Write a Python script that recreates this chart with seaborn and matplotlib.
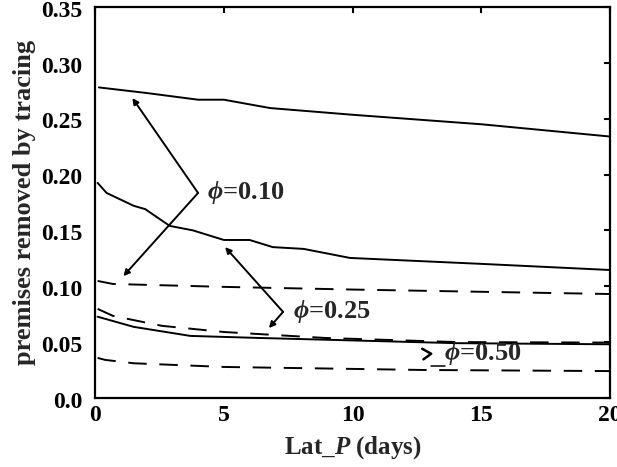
import pandas as pd
import matplotlib
matplotlib.use("Agg")
import matplotlib.pyplot as plt
import matplotlib.transforms as mtransforms
import seaborn as sns
from matplotlib.ticker import FixedLocator, FuncFormatter

# Solid curves (one per phi)
x_solid_010 = [0.15, 2, 4, 5, 6.8, 10, 15, 20]
y_solid_010 = [0.278, 0.273, 0.267, 0.267, 0.2595, 0.2535, 0.245, 0.234]

x_solid_025 = [0.1, 0.45, 1.5, 1.95, 2.9, 3.8, 5.0, 6.0, 6.9, 8.1, 9.9, 15, 20]
y_solid_025 = [0.1925, 0.1835, 0.172, 0.169, 0.154, 0.150, 0.1414, 0.1414, 0.135, 0.1334, 0.1253, 0.12, 0.1145]

x_solid_050 = [0.1, 1.5, 3.7, 6.3, 14, 20]
y_solid_050 = [0.0727, 0.0636, 0.0555, 0.0537, 0.049, 0.048]

# Dashed curves (one per phi)
x_dash_010 = [0.1, 0.7, 5, 10, 15, 20]
y_dash_010 = [0.1047, 0.102, 0.0994, 0.097, 0.095, 0.093]

x_dash_025 = [0.1, 0.7, 2.6, 5, 8.9, 14, 20]
y_dash_025 = [0.0797, 0.0734, 0.0645, 0.059, 0.0537, 0.050, 0.0495]

x_dash_050 = [0.1, 0.4, 1.5, 5, 12.7, 20]
y_dash_050 = [0.0358, 0.034, 0.031, 0.0277, 0.025, 0.024]

x_ticks = [0, 5, 10, 15, 20]
y_ticks = [0.0, 0.05, 0.10, 0.15, 0.20, 0.25, 0.30, 0.35]

sns.set_theme(style="white")
plt.rcParams["font.family"] = ["Liberation Serif", "DejaVu Serif"]
plt.rcParams["font.weight"] = "bold"
plt.rcParams["axes.labelweight"] = "bold"
plt.rcParams["mathtext.fontset"] = "custom"
plt.rcParams["mathtext.rm"] = "Liberation Serif:bold"
plt.rcParams["mathtext.it"] = "Liberation Serif:italic:bold"
plt.rcParams["mathtext.fallback"] = "stix"

fig = plt.figure(figsize=(6.17, 4.67), dpi=100)
ax = fig.add_axes([0.154, 0.148, 0.835, 0.837])

solid = [(x_solid_010, y_solid_010), (x_solid_025, y_solid_025), (x_solid_050, y_solid_050)]
dashed = [(x_dash_010, y_dash_010), (x_dash_025, y_dash_025), (x_dash_050, y_dash_050)]

for xs, ys in solid:
    df = pd.DataFrame({"x": xs, "y": ys})
    sns.lineplot(data=df, x="x", y="y", ax=ax, color="black", linewidth=1.4, estimator=None)
for xs, ys in dashed:
    df = pd.DataFrame({"x": xs, "y": ys})
    sns.lineplot(data=df, x="x", y="y", ax=ax, color="black", linewidth=1.4, estimator=None)
    ax.lines[-1].set_dashes((9.5, 6.5))

ax.set_xlim(0, 20)
ax.set_ylim(0, 0.35)
ax.xaxis.set_major_locator(FixedLocator(x_ticks))
ax.yaxis.set_major_locator(FixedLocator(y_ticks))
ax.yaxis.set_major_formatter(FuncFormatter(lambda v, p: "0.0" if v == 0 else f"{v:.2f}"))
ax.tick_params(direction="in", length=4, width=1.5, top=True, right=True,
               labelsize=17, colors="black")
ax.tick_params(axis="y", pad=9)
ax.tick_params(axis="x", pad=5)
for s in ax.spines.values():
    s.set_linewidth(1.6)
    s.set_color("black")

# nudge y tick labels down a touch, as in the original
shift = mtransforms.ScaledTranslation(0, -1.2 / 72, fig.dpi_scale_trans)
for lab in ax.get_yticklabels():
    lab.set_transform(lab.get_transform() + shift)

ax.set_xlabel(r"Lat_$P$ (days)", fontsize=18, fontweight="bold", labelpad=6)
ax.set_ylabel("premises removed by tracing", fontsize=19, fontweight="bold", labelpad=4)

# annotations
arrow = dict(arrowstyle="-|>", color="black", lw=1.4, mutation_scale=9, shrinkA=0, shrinkB=0)
ax.annotate("", xy=(1.45, 0.2685), xytext=(4.0, 0.1835), arrowprops=arrow)
ax.annotate("", xy=(1.1, 0.109), xytext=(4.0, 0.1835), arrowprops=arrow)
ax.text(4.35, 0.1835, r"$\phi$=0.10", fontsize=19, va="center", ha="left")

ax.annotate("", xy=(5.05, 0.135), xytext=(7.3, 0.077), arrowprops=arrow)
ax.annotate("", xy=(6.75, 0.0625), xytext=(7.3, 0.077), arrowprops=arrow)
ax.text(7.7, 0.077, r"$\phi$=0.25", fontsize=19, va="center", ha="left")

ax.plot([12.7, 13.05, 12.75], [0.044, 0.0395, 0.0345], color="black", lw=1.8)
ax.plot([13.05, 13.6], [0.0285, 0.0285], color="black", lw=1.1)
ax.text(13.55, 0.040, r"$\phi$=0.50", fontsize=19, va="center", ha="left")

fig.savefig("out.png", dpi=100)
